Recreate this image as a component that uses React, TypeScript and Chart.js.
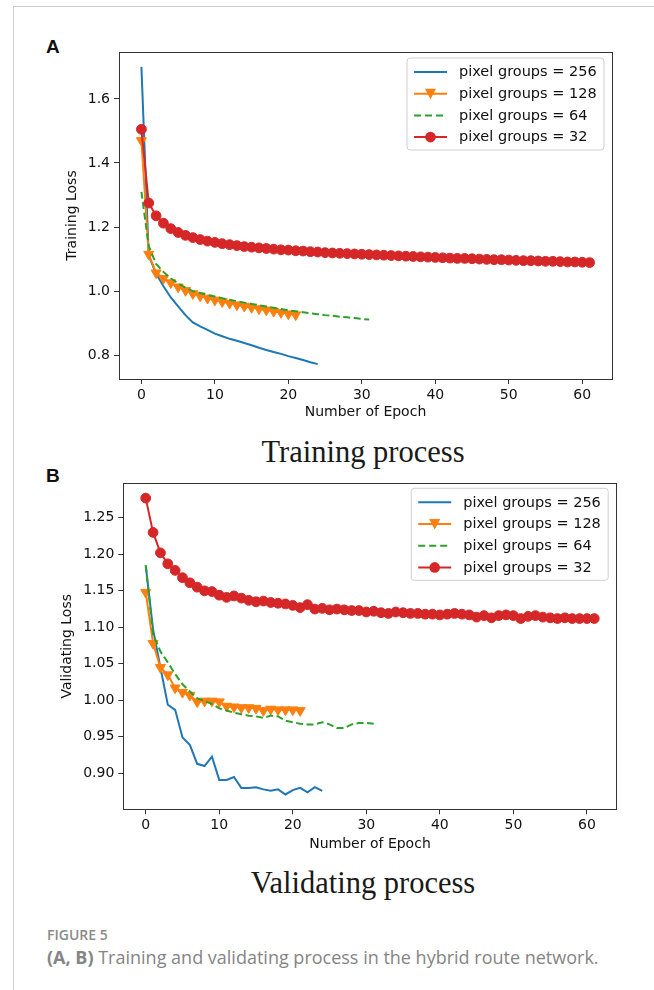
import React, { useEffect, useRef } from 'react';
import { Chart, registerables } from 'chart.js';

Chart.register(...registerables);

// ---------------- data ----------------
const epochTicks = [0, 10, 20, 30, 40, 50, 60];
const trainYTicks = [0.8, 1.0, 1.2, 1.4, 1.6];
const validYTicks = [0.9, 0.95, 1.0, 1.05, 1.1, 1.15, 1.2, 1.25];
const seriesLabels = ['pixel groups = 256', 'pixel groups = 128', 'pixel groups = 64', 'pixel groups = 32'];

const trainLoss256 = [1.70, 1.11, 1.055, 1.015, 0.98, 0.952, 0.925, 0.902, 0.89, 0.879, 0.867, 0.859, 0.851, 0.845, 0.838, 0.831, 0.823, 0.816, 0.81, 0.804, 0.797, 0.791, 0.785, 0.778, 0.772];
const trainLoss128 = [1.47, 1.115, 1.057, 1.04, 1.026, 1.013, 1.002, 0.992, 0.985, 0.978, 0.972, 0.967, 0.962, 0.957, 0.953, 0.949, 0.945, 0.941, 0.937, 0.933, 0.929, 0.926];
const trainLoss64 = [1.31, 1.14, 1.085, 1.06, 1.04, 1.024, 1.011, 1.0, 0.994, 0.988, 0.983, 0.978, 0.973, 0.968, 0.964, 0.96, 0.956, 0.952, 0.948, 0.944, 0.94, 0.937, 0.934, 0.931, 0.928, 0.925, 0.923, 0.92, 0.918, 0.916, 0.913, 0.911];
const trainLoss32 = [1.505, 1.275, 1.235, 1.212, 1.195, 1.183, 1.174, 1.167, 1.161, 1.156, 1.152, 1.148, 1.145, 1.142, 1.139, 1.137, 1.135, 1.133, 1.131, 1.129, 1.128, 1.126, 1.125,
  1.123, 1.122, 1.120, 1.119, 1.118, 1.117, 1.116, 1.115, 1.114, 1.113,
  1.112, 1.111, 1.110, 1.109, 1.108, 1.107, 1.106, 1.105, 1.104, 1.103,
  1.102, 1.102, 1.101, 1.100, 1.099, 1.098, 1.098, 1.097, 1.096, 1.095,
  1.095, 1.094, 1.093, 1.093, 1.092, 1.091, 1.091, 1.090, 1.089];

const validLoss256 = [1.185, 1.097, 1.045, 0.994, 0.987, 0.949, 0.939, 0.913, 0.910, 0.923, 0.891, 0.891, 0.895, 0.880, 0.880, 0.881, 0.878, 0.876, 0.878, 0.871, 0.877, 0.880, 0.874, 0.881, 0.876];
const validLoss128 = [1.148, 1.078, 1.045, 1.035, 1.017, 1.011, 1.007, 0.998, 0.999, 0.999, 0.998, 0.992, 0.991, 0.990, 0.990, 0.989, 0.986, 0.988, 0.987, 0.987, 0.987, 0.986];
const validLoss64 = [1.185, 1.09, 1.067, 1.052, 1.036, 1.022, 1.012, 1.003, 0.999, 0.995, 0.989, 0.986, 0.983, 0.981, 0.979, 0.978, 0.976, 0.979, 0.978, 0.972, 0.970, 0.968, 0.967, 0.967, 0.970, 0.967, 0.962, 0.962, 0.967, 0.969, 0.969, 0.968];
const validLoss32 = [1.277, 1.230, 1.202, 1.187, 1.178, 1.168, 1.161, 1.155, 1.150, 1.149,
  1.144, 1.141, 1.143, 1.140, 1.137, 1.135, 1.136, 1.134, 1.133, 1.132,
  1.130, 1.127, 1.131, 1.125, 1.126, 1.124, 1.125, 1.124, 1.123, 1.123,
  1.121, 1.122, 1.120, 1.119, 1.121, 1.120, 1.119, 1.119, 1.118, 1.118,
  1.117, 1.118, 1.119, 1.118, 1.117, 1.114, 1.116, 1.113, 1.116, 1.117,
  1.116, 1.112, 1.115, 1.116, 1.114, 1.113, 1.112, 1.113, 1.112, 1.112,
  1.112, 1.112];

// ---------------- styles ----------------
const BLUE = '#1f77b4';
const ORANGE = '#ff7f0e';
const GREEN = '#2ca02c';
const RED = '#d62728';
const FONT = "'DejaVu Sans', sans-serif";

function toPoints(arr: number[]) {
  return arr.map((y, i) => ({ x: i, y }));
}

function autoLimits(arrs: number[][]) {
  let lo = Infinity, hi = -Infinity;
  arrs.forEach(a => a.forEach(v => { lo = Math.min(lo, v); hi = Math.max(hi, v); }));
  const m = (hi - lo) * 0.05;
  return { min: lo - m, max: hi + m };
}

function makeDatasets(s256: number[], s128: number[], s64: number[], s32: number[]) {
  return [
    { label: seriesLabels[0], data: toPoints(s256), borderColor: BLUE, backgroundColor: BLUE, borderWidth: 2, pointRadius: 0, order: 3, mk: 'none' },
    { label: seriesLabels[1], data: toPoints(s128), borderColor: ORANGE, backgroundColor: ORANGE, borderWidth: 2, pointRadius: 5.8, pointStyle: 'triangle', rotation: 180, pointBorderWidth: 1, pointBackgroundColor: ORANGE, pointBorderColor: ORANGE, order: 2, mk: 'tri' },
    { label: seriesLabels[2], data: toPoints(s64), borderColor: GREEN, backgroundColor: GREEN, borderWidth: 2, borderDash: [7, 3.5], pointRadius: 0, order: 1, mk: 'none' },
    { label: seriesLabels[3], data: toPoints(s32), borderColor: RED, backgroundColor: RED, borderWidth: 2, pointRadius: 4.9, pointStyle: 'circle', pointBorderWidth: 1, pointBackgroundColor: RED, pointBorderColor: RED, order: 0, mk: 'circle' },
  ];
}

const framePlugin = {
  id: 'mplFrame',
  afterDatasetsDraw(chart: any) {
    const { ctx, chartArea: a } = chart;
    ctx.save();
    ctx.strokeStyle = '#333';
    ctx.lineWidth = 1;
    ctx.strokeRect(Math.round(a.left) + 0.5, Math.round(a.top) + 0.5, Math.round(a.right - a.left), Math.round(a.bottom - a.top));
    ctx.restore();
  },
};

const legendPlugin = {
  id: 'mplLegend',
  afterDraw(chart: any, _args: any, opts: any) {
    const { ctx, chartArea: a } = chart;
    const w = opts.width, h = opts.height;
    const x0 = a.right - opts.right - w;
    const y0 = a.top + opts.top;
    ctx.save();
    const r = 3;
    ctx.beginPath();
    ctx.moveTo(x0 + r, y0);
    ctx.lineTo(x0 + w - r, y0);
    ctx.quadraticCurveTo(x0 + w, y0, x0 + w, y0 + r);
    ctx.lineTo(x0 + w, y0 + h - r);
    ctx.quadraticCurveTo(x0 + w, y0 + h, x0 + w - r, y0 + h);
    ctx.lineTo(x0 + r, y0 + h);
    ctx.quadraticCurveTo(x0, y0 + h, x0, y0 + h - r);
    ctx.lineTo(x0, y0 + r);
    ctx.quadraticCurveTo(x0, y0, x0 + r, y0);
    ctx.closePath();
    ctx.fillStyle = 'rgba(255,255,255,0.8)';
    ctx.fill();
    ctx.strokeStyle = '#d0d0d0';
    ctx.lineWidth = 1;
    ctx.stroke();
    chart.data.datasets.forEach((ds: any, i: number) => {
      const cy = y0 + opts.firstRow + i * opts.rowGap;
      const lx0 = x0 + 7, lx1 = x0 + 40;
      ctx.strokeStyle = ds.borderColor;
      ctx.lineWidth = ds.borderWidth;
      ctx.setLineDash(ds.borderDash ? [7, 4] : []);
      ctx.beginPath();
      ctx.moveTo(lx0, cy);
      ctx.lineTo(lx1, cy);
      ctx.stroke();
      ctx.setLineDash([]);
      const mx = (lx0 + lx1) / 2;
      if (ds.mk === 'circle') {
        ctx.fillStyle = ds.borderColor;
        ctx.beginPath();
        ctx.arc(mx, cy, 5.3, 0, Math.PI * 2);
        ctx.fill();
      } else if (ds.mk === 'tri') {
        ctx.fillStyle = ds.borderColor;
        ctx.beginPath();
        ctx.moveTo(mx - 5.5, cy - 5);
        ctx.lineTo(mx + 5.5, cy - 5);
        ctx.lineTo(mx, cy + 5.5);
        ctx.closePath();
        ctx.fill();
      }
      ctx.fillStyle = '#111';
      ctx.font = `14.5px ${FONT}`;
      ctx.textBaseline = 'middle';
      ctx.textAlign = 'left';
      ctx.fillText(ds.label, x0 + 52, cy + 0.5);
    });
    ctx.restore();
  },
};

type ChartProps = {
  datasets: any[];
  yTicks: number[];
  yDecimals: number;
  yTitle: string;
  yLimits: { min: number; max: number };
  left: number; top: number; width: number; height: number;
  pad: { top: number; right: number };
  yAxisWidth: number;
  xAxisHeight: number;
  yTitlePad: number;
  xTitlePad: number;
  legend: { top: number; right: number };
};

function LossChart(p: ChartProps) {
  const ref = useRef<HTMLCanvasElement | null>(null);
  useEffect(() => {
    if (!ref.current) return;
    const tickColor = '#333';
    const chart = new Chart(ref.current, {
      type: 'line',
      data: { datasets: p.datasets as any },
      plugins: [framePlugin, legendPlugin],
      options: {
        responsive: false,
        animation: false,
        devicePixelRatio: 1,
        layout: { padding: { left: 0, top: p.pad.top, right: p.pad.right, bottom: 0 } },
        elements: { line: { tension: 0 } },
        plugins: {
          legend: { display: false },
          tooltip: { enabled: false },
          mplLegend: { width: 197, height: 92, top: p.legend.top, right: p.legend.right, firstRow: 14, rowGap: 21.7 },
        } as any,
        scales: {
          x: {
            type: 'linear',
            min: -3.05,
            max: 64.05,
            afterBuildTicks: (s: any) => { s.ticks = epochTicks.map(v => ({ value: v })); },
            afterFit: (s: any) => { s.height = p.xAxisHeight; },
            ticks: { color: '#111', font: { family: FONT, size: 14 }, padding: 3, maxRotation: 0, autoSkip: false, callback: (v: any) => String(v) },
            grid: { display: true, drawOnChartArea: false, drawTicks: true, tickLength: 5, color: tickColor, lineWidth: 1 },
            border: { display: false },
            title: { display: true, text: 'Number of Epoch', color: '#111', font: { family: FONT, size: 14 }, padding: { top: 0, bottom: p.xTitlePad } },
          },
          y: {
            type: 'linear',
            min: p.yLimits.min,
            max: p.yLimits.max,
            afterBuildTicks: (s: any) => { s.ticks = p.yTicks.map(v => ({ value: v })); },
            afterFit: (s: any) => { s.width = p.yAxisWidth; },
            ticks: { color: '#111', font: { family: FONT, size: 14 }, padding: 4, autoSkip: false, callback: (v: any) => Number(v).toFixed(p.yDecimals) },
            grid: { display: true, drawOnChartArea: false, drawTicks: true, tickLength: 5, color: tickColor, lineWidth: 1 },
            border: { display: false },
            title: { display: true, text: p.yTitle, color: '#111', font: { family: FONT, size: 14 }, padding: { top: p.yTitlePad, bottom: 0 } },
          },
        },
      } as any,
    });
    return () => chart.destroy();
  }, []);
  return (
    <canvas
      ref={ref}
      width={p.width}
      height={p.height}
      style={{ position: 'absolute', left: p.left, top: p.top, width: p.width, height: p.height }}
    />
  );
}

export default function App() {
  const trainSets = makeDatasets(trainLoss256, trainLoss128, trainLoss64, trainLoss32);
  const validSets = makeDatasets(validLoss256, validLoss128, validLoss64, validLoss32);
  const trainLim = autoLimits([trainLoss256, trainLoss128, trainLoss64, trainLoss32]);
  const validLim = autoLimits([validLoss256, validLoss128, validLoss64, validLoss32]);
  const serif = "'Liberation Serif', 'DejaVu Serif', serif";
  return (
    <div style={{ position: 'absolute', left: 0, top: 0, width: 654, height: 990, background: '#fff', overflow: 'hidden' }}>
      <div style={{ position: 'absolute', left: 13, top: 6, width: 700, height: 1000, borderLeft: '1px solid #cfcfcf', borderTop: '1px solid #cfcfcf' }} />
      <div style={{ position: 'absolute', left: 46, top: 36, fontFamily: "'Liberation Sans', Arial, sans-serif", fontWeight: 'bold', fontSize: 19, lineHeight: '22px', color: '#111' }}>A</div>
      <div style={{ position: 'absolute', left: 46, top: 465, fontFamily: "'Liberation Sans', Arial, sans-serif", fontWeight: 'bold', fontSize: 19, lineHeight: '22px', color: '#111' }}>B</div>

      <LossChart
        datasets={trainSets}
        yTicks={trainYTicks}
        yDecimals={1}
        yTitle="Training Loss"
        yLimits={trainLim}
        left={20} top={30} width={620} height={400}
        pad={{ top: 22, right: 28 }}
        yAxisWidth={99}
        xAxisHeight={51}
        yTitlePad={44}
        xTitlePad={9}
        legend={{ top: 6, right: 8 }}
      />
      <div style={{ position: 'absolute', left: 163, width: 400, top: 434, textAlign: 'center', fontFamily: serif, fontSize: 30.5, lineHeight: '36px', color: '#1a1a1a' }}>Training process</div>

      <LossChart
        datasets={validSets}
        yTicks={validYTicks}
        yDecimals={2}
        yTitle="Validating Loss"
        yLimits={validLim}
        left={20} top={460} width={620} height={400}
        pad={{ top: 23.3, right: 23.3 }}
        yAxisWidth={103.3}
        xAxisHeight={50.7}
        yTitlePad={39}
        xTitlePad={7}
        legend={{ top: 5, right: 8.5 }}
      />
      <div style={{ position: 'absolute', left: 163, width: 400, top: 865, textAlign: 'center', fontFamily: serif, fontSize: 30.5, lineHeight: '36px', color: '#1a1a1a' }}>Validating process</div>

      <div style={{ position: 'absolute', left: 47, top: 925, fontFamily: "'Open Sans', sans-serif", fontWeight: 600, fontSize: 14, lineHeight: '20px', color: '#8a8a8a' }}>FIGURE 5</div>
      <div style={{ position: 'absolute', left: 47, top: 944, fontFamily: "'Open Sans', sans-serif", fontSize: 18, lineHeight: '26px', color: '#858585', whiteSpace: 'nowrap' }}>
        <span style={{ fontWeight: 700 }}>(A, B)</span> Training and validating process in the hybrid route network.
      </div>
    </div>
  );
}
